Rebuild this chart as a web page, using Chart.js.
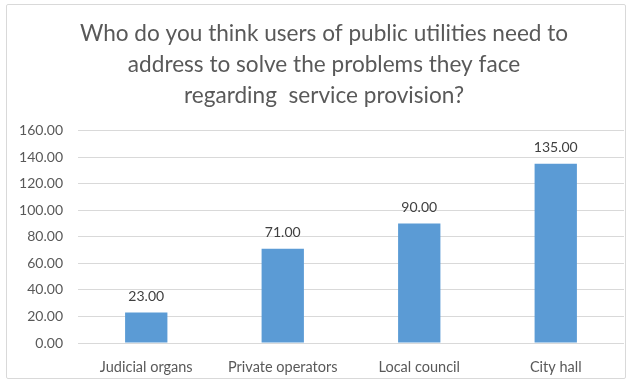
<!DOCTYPE html>
<html>
<head>
<meta charset="utf-8">
<script src="https://cdn.jsdelivr.net/npm/chart.js@4.4.0/dist/chart.umd.min.js"></script>
<style>
  html, body { margin: 0; padding: 0; background: #fff; }
  #wrap { position: relative; width: 631px; height: 382px; }
  #frame { position: absolute; left: 6px; top: 4px; width: 618px; height: 373px; border: 1px solid #d9d9d9; border-radius: 2px; pointer-events: none; }
</style>
</head>
<body>
<div id="wrap">
  <canvas id="grafico"></canvas>
  <div id="frame"></div>
</div>
<script>
const categorias = ['Judicial organs', 'Private operators', 'Local council', 'City hall'];
const valores = [23, 71, 90, 135];
const titulo = [
  'Who do you think users of public utilities need to',
  'address to solve the problems they face',
  'regarding  service provision?'
];

const fonte = 'Lato, "Open Sans", sans-serif';
const cinza = '#595959';

// writes each bar's value just above it
const rotulos = {
  id: 'rotulos',
  afterDatasetsDraw(chart) {
    const c = chart.ctx;
    const meta = chart.getDatasetMeta(0);
    c.save();
    c.font = '14px ' + fonte;
    c.fillStyle = '#404040';
    c.textAlign = 'center';
    c.textBaseline = 'middle';
    meta.data.forEach((bar, i) => {
      c.fillText(valores[i].toFixed(2), bar.x, bar.y - 16);
    });
    c.restore();
  }
};

// nudges the title a little to the right
const tituloDesloc = {
  id: 'tituloDesloc',
  afterLayout(chart) {
    const t = chart.titleBlock;
    if (t) { t.left += 9; t.right += 9; }
  }
};

const ctx = document.getElementById('grafico');
ctx.width = 631;
ctx.height = 382;

new Chart(ctx, {
  type: 'bar',
  data: {
    labels: categorias,
    datasets: [{
      data: valores,
      backgroundColor: '#5b9bd5',
      categoryPercentage: 1,
      barPercentage: 0.31
    }]
  },
  options: {
    responsive: false,
    animation: false,
    layout: { padding: { left: 6, right: 7, top: 0, bottom: 4 } },
    plugins: {
      legend: { display: false },
      tooltip: { enabled: false },
      title: {
        display: true,
        text: titulo,
        color: cinza,
        font: { family: fonte, size: 22.6, weight: 'normal', lineHeight: 1.38 },
        padding: { top: 18, bottom: 19 }
      }
    },
    scales: {
      x: {
        grid: { display: false },
        border: { display: false },
        ticks: { color: cinza, font: { family: fonte, size: 14.5 }, padding: 8 },
        afterFit(scale) { scale.height = 35; }
      },
      y: {
        min: 0,
        max: 160,
        ticks: {
          stepSize: 20,
          color: cinza,
          font: { family: fonte, size: 14 },
          padding: 15,
          callback: v => v.toFixed(2)
        },
        grid: { color: '#d9d9d9', drawTicks: false },
        border: { display: false },
        afterFit(scale) { scale.width = 72; }
      }
    }
  },
  plugins: [rotulos, tituloDesloc]
});
</script>
</body>
</html>
